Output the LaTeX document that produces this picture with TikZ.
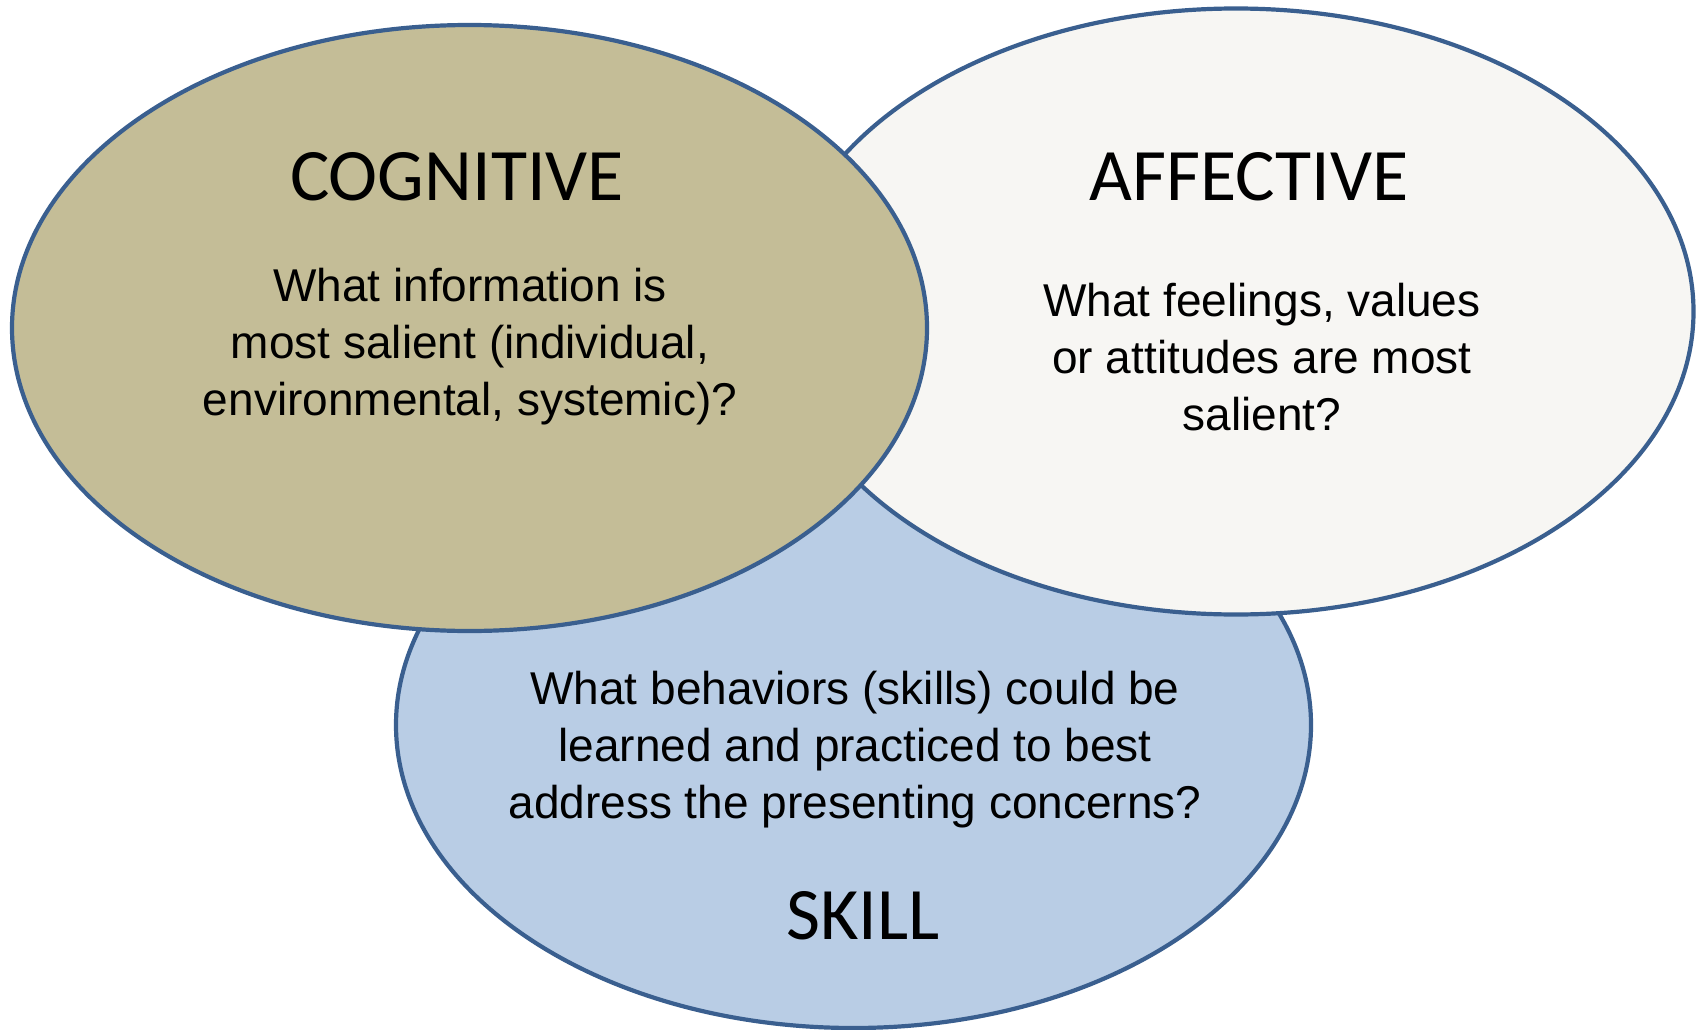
\documentclass[tikz,border=0pt]{standalone}
\usepackage{fontspec}
\setmainfont{Liberation Sans}
\newfontfamily\headfont{Carlito}
\usetikzlibrary{shapes.geometric}

\definecolor{rim}{HTML}{3A5F8F}
\definecolor{tan}{HTML}{C4BD97}
\definecolor{paper}{HTML}{F7F6F3}
\definecolor{sky}{HTML}{B9CDE5}

\tikzset{
  bubble/.style={ellipse, draw=rim, line width=4.2pt, inner sep=0pt,
                 minimum width=915pt, minimum height=606pt},
  heading/.style={anchor=base, inner sep=0pt,
                  font=\headfont\fontsize{74}{88}\selectfont},
  % base anchor of a multi-line block sits on its last line
  question/.style={anchor=base, inner sep=0pt, align=center,
                   font=\fontsize{46}{57}\selectfont}
}

\begin{document}
\begin{tikzpicture}[x=1pt, y=-1pt]
  \useasboundingbox (0,0) rectangle (1702,1030);

  % the three overlapping domains, back to front
  \node[bubble, fill=sky]   (skill) at (853.5,725) {};
  \node[bubble, fill=paper] (aff)   at (1236,311.5) {};
  \node[bubble, fill=tan]   (cog)   at (469.5,328) {};

  % cognitive
  \node[heading]  (cogtitle) at (457,200) {COGNITIVE};
  \node[question] (cogq) at (470,415)
    {What information is\\most salient (individual,\\environmental, systemic)?};

  % affective
  \node[heading]  (afftitle) at (1249,200) {AFFECTIVE};
  \node[question] (affq) at (1262,430)
    {What feelings, values\\or attitudes are most\\salient?};

  % skill
  \node[question] (skillq) at (855,818)
    {What behaviors (skills) could be\\learned and practiced to best\\address the presenting concerns?};
  \node[heading]  (skilltitle) at (863,939) {SKILL};
\end{tikzpicture}
\end{document}
